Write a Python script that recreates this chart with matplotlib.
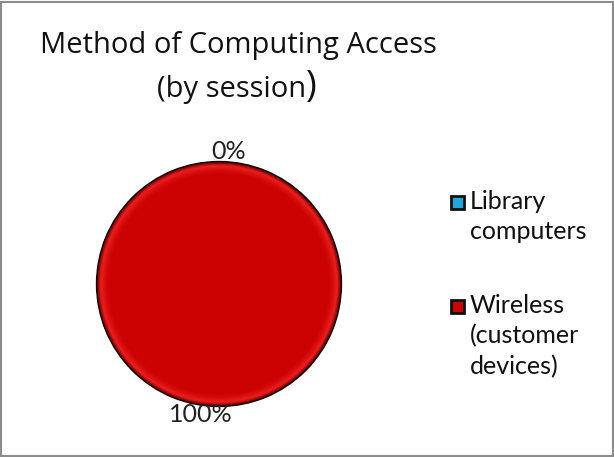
import matplotlib
matplotlib.use("Agg")
import matplotlib.pyplot as plt
import numpy as np
from matplotlib.patches import Rectangle

categories = ["Library\ncomputers", "Wireless\n(customer\ndevices)"]
values = [0, 100]
colors = ["#1EA8E0", "#CC0404"]
title_line1 = "Method of Computing Access"
title_line2 = "(by session"

W, H = 614, 457
fig = plt.figure(figsize=(W / 100, H / 100), dpi=100)
fig.patch.set_facecolor("white")

# border
fig.add_artist(Rectangle((1.5 / W, 1.5 / H), 1 - 3 / W, 1 - 3 / H, transform=fig.transFigure,
                         fill=False, edgecolor="#8c8c8c", linewidth=1.5))

cx, cy, r = 219, 284, 123
ax = fig.add_axes([(cx - r) / W, (H - cy - r) / H, 2 * r / W, 2 * r / H])

wedges, texts, autotexts = ax.pie(
    values, colors=colors, startangle=90, counterclock=False,
    autopct=lambda p: f"{p:.0f}%", pctdistance=1.09,
    wedgeprops=dict(edgecolor="#0a0000", linewidth=2.0),
    textprops=dict(fontsize=18, family="Lato", color="#222222"),
)
ax.set_xlim(-1.01, 1.01)
ax.set_ylim(-1.01, 1.01)
ax.set_aspect("equal")

# radial shading inside the wedge
N = 500
yy, xx = np.mgrid[-1:1:N * 1j, -1:1:N * 1j]
rr = np.sqrt(xx ** 2 + yy ** 2)[..., None]
base = np.array([0.80, 0.01, 0.01])
light = np.array([0.92, 0.12, 0.12])
dark = np.array([0.45, 0.0, 0.0])
t = np.clip((rr - 0.90) / 0.07, 0, 1)
shade = np.where(rr < 0.97, base + (light - base) * t ** 1.5,
                 light + (dark - light) * np.clip((rr - 0.97) / 0.03, 0, 1))
im = ax.imshow(shade, extent=(-1, 1, -1, 1), origin="lower", zorder=1.5)
im.set_clip_path(wedges[1])

# label nudges
autotexts[0].set_position((0.08, 1.09))
autotexts[1].set_position((-0.15, -1.07))
for t_ in autotexts:
    t_.set_zorder(5)

# title
fig.text(238 / W, 1 - 45 / H, title_line1, ha="center", va="center", fontsize=21,
         family="Open Sans", color="#111111")
t2 = fig.text(157 / W, 1 - 89 / H, title_line2, ha="left", va="center", fontsize=21,
              family="Open Sans", color="#111111")
fig.canvas.draw()
bb = t2.get_window_extent()
fig.text(bb.x1 / W, 1 - 87 / H, ")", ha="left", va="center", fontsize=26,
         family="Open Sans", color="#111111")

# legend (drawn manually, marker aligned with first label line)
first_line_y = [202, 306]
for c, lab, y in zip(colors, categories, first_line_y):
    fig.add_artist(Rectangle((451 / W, 1 - (y + 6.5) / H), 13 / W, 13 / H,
                             transform=fig.transFigure, facecolor=c,
                             edgecolor="#111111", linewidth=2))
    fig.text(470 / W, 1 - (y - 12) / H, lab, ha="left", va="top", fontsize=18,
             family="Lato", color="#111111", linespacing=1.38)

fig.savefig("out.png", dpi=100, facecolor="white")
